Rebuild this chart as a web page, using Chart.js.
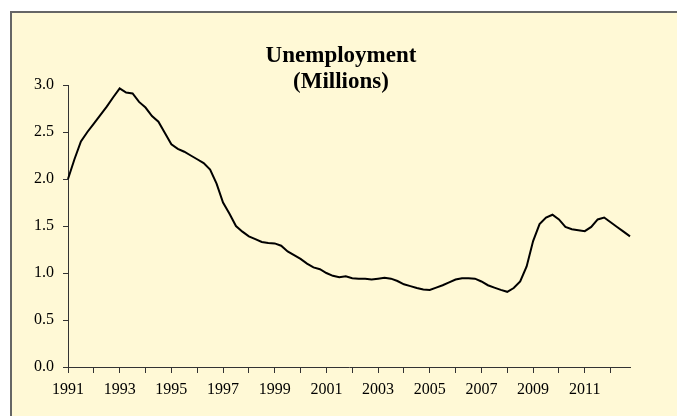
<!DOCTYPE html>
<html>
<head>
  <title>Unemployment (Millions)</title>
  <script src="https://cdn.jsdelivr.net/npm/chart.js@4.4.1/dist/chart.umd.min.js"></script>
  <style>
    body { margin: 0; background: #fff; }
    #frame {
      position: absolute; left: 10px; top: 11px; width: 720px; height: 460px;
      border: 2px solid #666; background: rgb(255, 249, 214);
    }
    #wrap { position: absolute; left: 0; top: 0; width: 677px; height: 416px; }
  </style>
</head>
<body>

<div id="frame"></div>
<div id="wrap"><canvas id="chart" width="677" height="416"></canvas></div>

<script>
// Quarterly data, 1991 Q1 to 2012 Q4
const years = [];
for (let y = 1991; y <= 2012; y++) years.push(y);

const quarters = [];
years.forEach(y => { for (let q = 1; q <= 4; q++) quarters.push(y + ' Q' + q); });

const unemployment = [
  2.00, 2.21, 2.40, 2.50, 2.59, 2.68, 2.77, 2.87,
  2.965, 2.92, 2.91, 2.82, 2.76, 2.67, 2.61, 2.49,
  2.37, 2.32, 2.29, 2.25, 2.21, 2.17, 2.10, 1.95,
  1.75, 1.63, 1.50, 1.44, 1.39, 1.36, 1.33, 1.32,
  1.315, 1.29, 1.23, 1.19, 1.15, 1.10, 1.06, 1.04,
  1.00, 0.97, 0.955, 0.965, 0.945, 0.94, 0.94, 0.93,
  0.94, 0.95, 0.94, 0.915, 0.88, 0.86, 0.84, 0.825,
  0.82, 0.845, 0.87, 0.90, 0.93, 0.945, 0.945, 0.94,
  0.91, 0.87, 0.845, 0.82, 0.80, 0.84, 0.91, 1.07,
  1.34, 1.52, 1.59, 1.62, 1.57, 1.49, 1.465, 1.455,
  1.445, 1.49, 1.57, 1.59, 1.54, 1.49, 1.44, 1.39
];

const yTicks = [0, 0.5, 1.0, 1.5, 2.0, 2.5, 3.0];

const serif = 'Liberation Serif, Times New Roman, serif';

new Chart(document.getElementById('chart'), {
  type: 'line',
  data: {
    labels: quarters,
    datasets: [{
      label: 'Unemployment',
      data: unemployment,
      borderColor: '#000',
      borderWidth: 2,
      pointRadius: 0,
      tension: 0,
      fill: false
    }]
  },
  options: {
    responsive: false,
    animation: false,
    layout: { padding: { left: 5, right: 0, top: 0, bottom: 0 } },
    plugins: {
      legend: { display: false },
      tooltip: { enabled: false },
      title: {
        display: true,
        text: ['Unemployment', '(Millions)'],
        color: '#000',
        font: { family: serif, size: 23, weight: 'bold', lineHeight: 26 / 23 },
        padding: { top: 43, bottom: -10 }
      }
    },
    scales: {
      x: {
        type: 'category',
        offset: false,
        afterFit: s => { s.height = 49; },
        border: { display: true, color: '#333', width: 1 },
        grid: {
          drawOnChartArea: false,
          offset: false,
          tickLength: 6,
          tickColor: ctx => (ctx.index % 4 === 0 ? '#333' : 'rgba(0,0,0,0)')
        },
        ticks: {
          autoSkip: false,
          maxRotation: 0,
          minRotation: 0,
          padding: 7,
          color: '#000',
          font: { family: serif, size: 16 },
          callback: (v, i) => {
            if (i % 4 !== 0) return '';
            const yr = years[i / 4];
            return yr % 2 === 1 ? String(yr) : '';
          }
        }
      },
      y: {
        min: 0,
        max: 3,
        afterFit: s => { s.width = 63; },
        afterBuildTicks: s => { s.ticks = yTicks.map(v => ({ value: v })); },
        border: { display: true, color: '#333', width: 1 },
        grid: { drawOnChartArea: false, tickLength: 5, tickColor: '#333' },
        ticks: {
          padding: 9,
          color: '#000',
          font: { family: serif, size: 16 },
          callback: v => v.toFixed(1)
        }
      },
      // empty right-hand box that keeps the plot clear of the right edge
      yRight: {
        position: 'right',
        min: 0,
        max: 3,
        afterFit: s => { s.width = 47; },
        border: { display: false },
        grid: { display: false },
        ticks: { display: false }
      }
    }
  }
});
</script>

</body>
</html>
